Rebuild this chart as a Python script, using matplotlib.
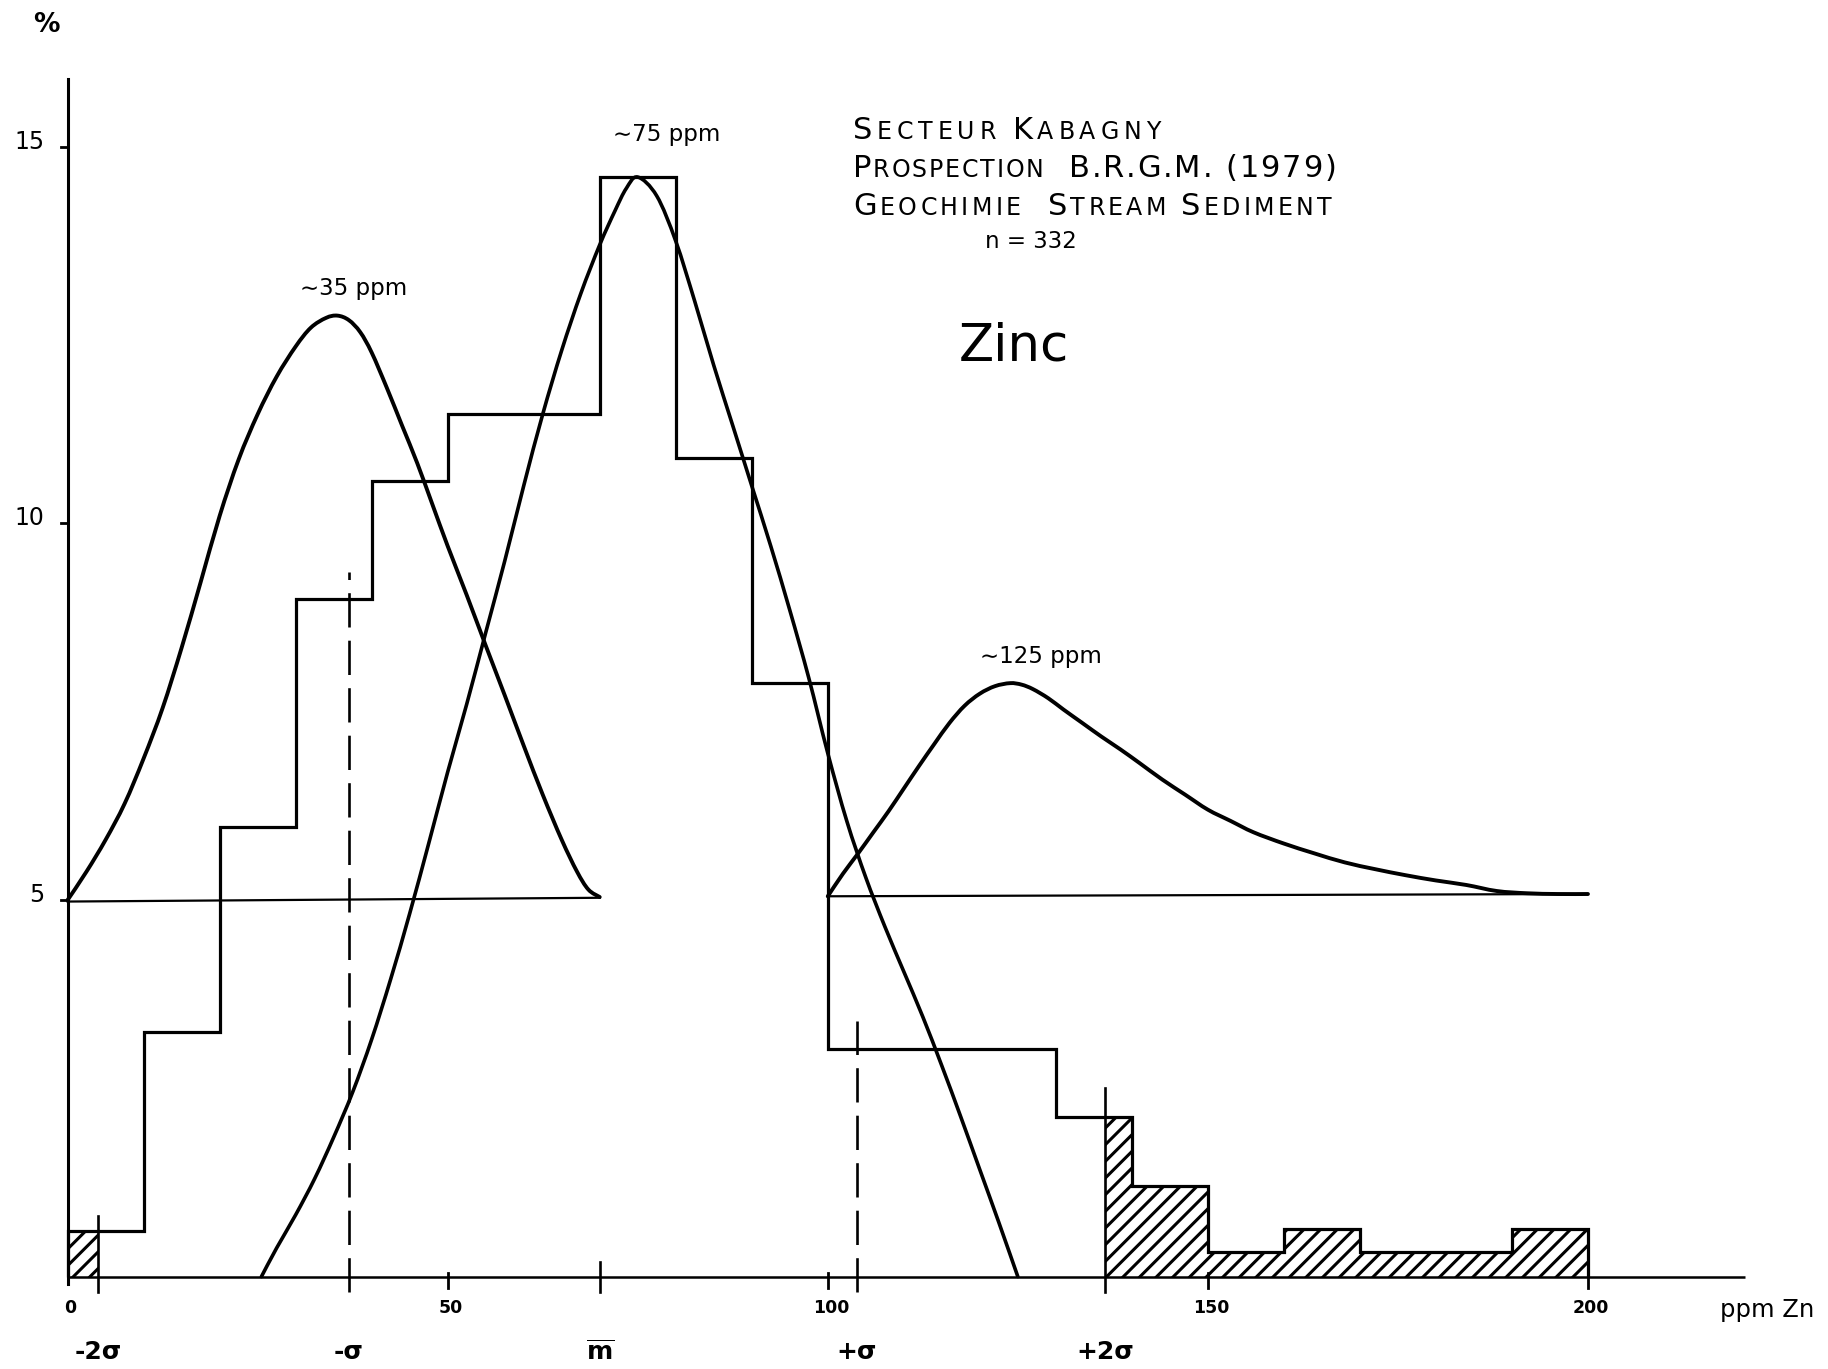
import matplotlib
matplotlib.use('Agg')
import matplotlib.pyplot as plt
from matplotlib.path import Path
from matplotlib.patches import PathPatch

W, H, DPI = 1828, 1369, 100

# ---------------- data ----------------
bin_edges = [0, 10, 20, 30, 40, 50, 70, 80, 90, 100, 130, 140, 150, 160, 170, 190, 200]
freq_pct = [0.6, 3.25, 5.97, 9.0, 10.56, 11.46, 14.6, 10.87, 7.88, 3.02,
            2.12, 1.2, 0.33, 0.63, 0.33, 0.63]

# population 1 (~35 ppm), drawn above a baseline at 5 %
pop1_x = [0, 2.5, 5, 7.5, 10, 12.5, 15, 17.5, 20, 22.5, 25, 27.5, 30, 32, 34, 35.5,
          37, 38.5, 40, 42, 44, 46, 48, 50, 52.5, 55, 57.5, 60, 62.5, 65, 67, 68.5, 70]
pop1_y = [5.0, 5.38, 5.8, 6.28, 6.88, 7.55, 8.35, 9.22, 10.1, 10.85, 11.45, 11.95,
          12.35, 12.6, 12.73, 12.76, 12.7, 12.54, 12.27, 11.8, 11.3, 10.8, 10.25, 9.7,
          9.05, 8.38, 7.72, 7.05, 6.4, 5.8, 5.38, 5.14, 5.04]
pop1_base_x = [0, 70]
pop1_base_y = [4.98, 5.03]

# population 2 (~75 ppm)
pop2_x = [25.5, 27.5, 30, 32.5, 35, 37.5, 40, 42.5, 45, 47.5, 50, 52.5, 55, 57.5, 60,
          62.5, 65, 67.5, 70, 72, 73.5, 75, 77.5, 80, 82.5, 85, 87.5, 90, 92.5, 95,
          97.5, 100, 102.5, 105, 107.5, 110, 112.5, 115, 117.5, 120, 122.5, 125]
pop2_y = [0, 0.38, 0.82, 1.3, 1.85, 2.45, 3.15, 3.95, 4.82, 5.75, 6.7, 7.6, 8.55, 9.5,
          10.5, 11.45, 12.3, 13.05, 13.7, 14.15, 14.45, 14.6, 14.35, 13.75, 12.95, 12.1,
          11.3, 10.5, 9.7, 8.85, 7.95, 6.95, 6.05, 5.3, 4.65, 4.05, 3.45, 2.8, 2.12,
          1.42, 0.72, 0]

# population 3 (~125 ppm), drawn above a baseline at 5 %
pop3_x = [100, 102, 104, 106, 108, 110, 112, 114, 116, 118, 120, 122, 124, 125.5, 127,
          129, 131, 133.5, 136, 138.5, 141, 144, 147, 150, 153, 156, 160, 164, 168, 172,
          176, 180, 184, 188, 192, 196, 200]
pop3_y = [5.05, 5.35, 5.62, 5.9, 6.18, 6.48, 6.78, 7.07, 7.35, 7.58, 7.74, 7.84, 7.88,
          7.86, 7.8, 7.68, 7.53, 7.35, 7.17, 7.0, 6.82, 6.6, 6.4, 6.2, 6.05, 5.9, 5.75,
          5.62, 5.5, 5.41, 5.33, 5.26, 5.2, 5.12, 5.09, 5.08, 5.08]
pop3_base_x = [100, 200]
pop3_base_y = [5.05, 5.08]

# mean / sigma markers on the ppm axis
sigma_pos = [4, 37, 70, 103.8, 136.5]
sigma_labels = ['-2σ', '-σ', r'$\overline{\mathbf{m}}$', '+σ', '+2σ']
sigma_tops = [0.8, 9.35, 0.2, 3.4, 2.5]

x_ticks = [0, 50, 100, 150, 200]
x_tick_labels = ['0', '50', '100', '150', '200']
y_ticks = [5, 10, 15]
y_tick_labels = ['5', '10', '15']

peak_labels = ['∼35 ppm', '∼75 ppm', '∼125 ppm']
peak_label_pos = [(37.6, 13.12), (78.8, 15.16), (128.1, 8.24)]

title_lines = ['Secteur Kabagny', 'Prospection  B.R.G.M. (1979)',
               'Geochimie  Stream Sediment']

# ---------------- figure ----------------
plt.rcParams['font.family'] = ['DejaVu Sans']
plt.rcParams['hatch.linewidth'] = 2.2

fig = plt.figure(figsize=(W / DPI, H / DPI), dpi=DPI)
ax = fig.add_axes([0, 0, 1, 1])
ax.set_xlim(-8.893, 231.58)
ax.set_ylim(-1.227, 16.951)
ax.axis('off')

K = 'black'
LW = 2.3


def smooth_curve(xs, ys, lw):
    """Draw a smooth curve through the read points (Catmull-Rom as Bezier)."""
    pts = list(zip(xs, ys))
    verts = [pts[0]]
    codes = [Path.MOVETO]
    n = len(pts)
    for i in range(n - 1):
        p0 = pts[i - 1] if i > 0 else pts[i]
        p1 = pts[i]
        p2 = pts[i + 1]
        p3 = pts[i + 2] if i + 2 < n else pts[i + 1]
        c1 = (p1[0] + (p2[0] - p0[0]) / 6, p1[1] + (p2[1] - p0[1]) / 6)
        c2 = (p2[0] - (p3[0] - p1[0]) / 6, p2[1] - (p3[1] - p1[1]) / 6)
        verts += [c1, c2, p2]
        codes += [Path.CURVE4] * 3
    ax.add_patch(PathPatch(Path(verts, codes), fill=False, edgecolor=K, lw=lw,
                           capstyle='round', joinstyle='round'))


# axes
ax.plot([0, 220.7], [0, 0], color=K, lw=1.8, solid_capstyle='butt')
ax.plot([0, 0], [-0.1, 15.9], color=K, lw=2.2)
for v, lab in zip(y_ticks, y_tick_labels):
    ax.plot([-0.9, 0], [v, v], color=K, lw=2)
    ax.text(-3.0, v + 0.07, lab, ha='right', va='center', fontsize=17)
ax.text(-2.8, 16.62, '%', ha='center', va='center', fontsize=19, fontweight='bold')

for v, lab in zip(x_ticks, x_tick_labels):
    if v > 0:
        ax.plot([v, v], [-0.15, 0.05], color=K, lw=2)
    ax.text(v + 0.4, -0.42, lab, ha='center', va='center', fontsize=12.5,
            fontweight='bold')
ax.text(217.4, -0.45, 'ppm Zn', ha='left', va='center', fontsize=17.5)

# histogram
ax.stairs(freq_pct, bin_edges, baseline=0, color=K, lw=LW)


def tail(lo, hi):
    xs, ws, hs = [], [], []
    for a, b, v in zip(bin_edges[:-1], bin_edges[1:], freq_pct):
        l, r = max(a, lo), min(b, hi)
        if r > l:
            xs.append(l)
            ws.append(r - l)
            hs.append(v)
    return xs, ws, hs


for lo, hi in [(0, sigma_pos[0]), (sigma_pos[-1], 1e9)]:
    xs, ws, hs = tail(lo, hi)
    ax.bar(xs, hs, width=ws, align='edge', fill=False, hatch='//',
           edgecolor=K, linewidth=0)

# sigma lines
styles = ['-', (0, (13, 5)), '-', (0, (13, 5)), '-']
for p, top, ls in zip(sigma_pos, sigma_tops, styles):
    ax.plot([p, p], [-0.2, top], color=K, lw=1.9, linestyle=ls)
for p, lab in zip(sigma_pos, sigma_labels):
    ax.text(p, -1.0, lab, ha='center', va='center', fontsize=18, fontweight='bold')

# populations
ax.plot(pop1_base_x, pop1_base_y, color=K, lw=1.6)
ax.plot(pop3_base_x, pop3_base_y, color=K, lw=1.6)
smooth_curve(pop1_x, pop1_y, 2.8)
smooth_curve(pop2_x, pop2_y, 2.6)
smooth_curve(pop3_x, pop3_y, 2.8)

for lab, (px, py) in zip(peak_labels, peak_label_pos):
    ax.text(px, py, lab, ha='center', va='center', fontsize=16.5)

# title block with small caps
renderer = fig.canvas.get_renderer()


def smallcaps(x, y, s, big=22, small=17, gap=3.5):
    x0, y0 = ax.transData.transform((x, y))
    cur = x0
    for ch in s:
        if ch == ' ':
            cur += small * 0.5 * DPI / 72
            continue
        size = small if ch.islower() else big
        t = fig.text(cur / W, y0 / H, ch.upper(), fontsize=size, ha='left',
                     va='baseline')
        bb = t.get_window_extent(renderer)
        cur = bb.x1 + gap


tx = 103.3
gaps = [4.8, 1.8, 3.3]
for i, line in enumerate(title_lines):
    smallcaps(tx, 15.1 - i * 0.5, line, gap=gaps[i])
ax.text(126.7, 13.75, 'n = 332', ha='center', va='center', fontsize=16.5)
ax.text(124.5, 12.35, 'Zinc', ha='center', va='center', fontsize=37)

fig.savefig('out.png', dpi=DPI, facecolor='white')
